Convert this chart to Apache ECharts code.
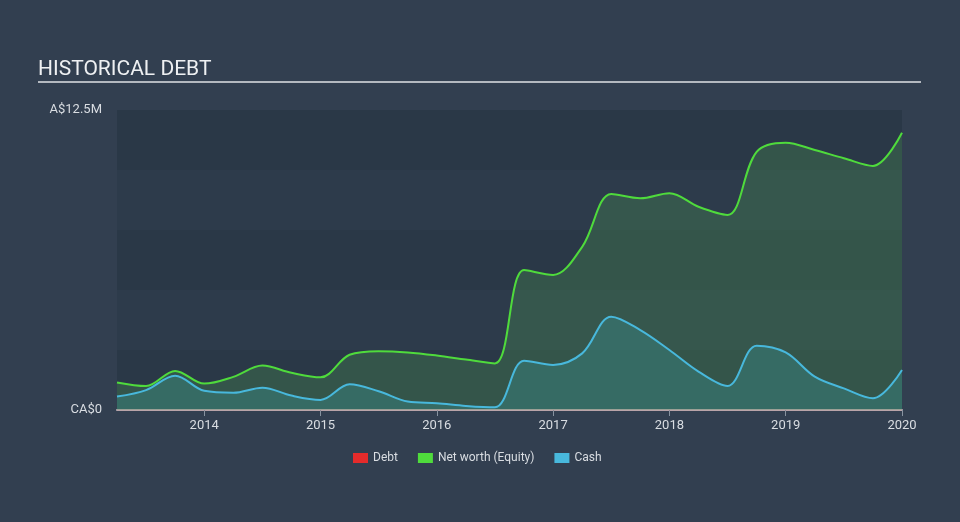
<!DOCTYPE html>
<html>
<head>
<meta charset="utf-8">
<script src="https://cdn.jsdelivr.net/npm/echarts@6/dist/echarts.min.js"></script>
<style>
html,body{margin:0;padding:0;background:#323f50;}
#chart{width:960px;height:522px;}
</style>
</head>
<body>
<div id="chart"></div>
<script>
// Quarter-end dates (YYYY-MM)
const dates = ['2013-03','2013-06','2013-09','2013-12','2014-03','2014-06','2014-09','2014-12',
  '2015-03','2015-06','2015-09','2015-12','2016-03','2016-06','2016-09','2016-12',
  '2017-03','2017-06','2017-09','2017-12','2018-03','2018-06','2018-09','2018-12',
  '2019-03','2019-06','2019-09','2019-12'];
// Values in A$ millions
const debt = [0,0,0,0,0,0,0,0,0,0,0,0,0,0,0,0,0,0,0,0,0,0,0,0,0,0,0,0];
const netWorth = [1.15,1.0,1.63,1.1,1.38,1.85,1.55,1.36,2.3,2.45,2.4,2.27,2.1,1.94,5.83,5.63,
  6.8,9.0,8.82,9.03,8.47,8.13,10.76,11.14,10.83,10.49,10.17,11.55];
const cash = [0.56,0.83,1.43,0.8,0.72,0.93,0.6,0.42,1.07,0.78,0.35,0.28,0.17,0.11,2.05,1.88,
  2.36,3.89,3.33,2.5,1.6,1.0,2.68,2.4,1.39,0.9,0.49,1.67];
const yearTicks = [2014,2015,2016,2017,2018,2019,2020];
const yMax = 12.5;

function toYear(d){ const [y,m]=d.split('-').map(Number); return y + m/12; }
function pairs(vals){ return dates.map((d,i)=>[toYear(d), vals[i]]); }

const chart = echarts.init(document.getElementById('chart'), null, {renderer:'canvas'});
const font = 'Roboto, "Open Sans", sans-serif';
chart.setOption({
  backgroundColor: '#323f50',
  animation: false,
  textStyle: {fontFamily: font},
  title: {
    text: 'HISTORICAL DEBT', left: 38, top: 59, padding: 0,
    textStyle: {color: '#eef0f2', fontSize: 21, fontWeight: 'normal', fontFamily: font}
  },
  graphic: [{
    type: 'rect', shape: {x: 38, y: 81, width: 883, height: 2},
    style: {fill: '#b4b9c0'}, silent: true
  }],
  legend: {
    left: 348, top: 447, icon: 'rect', itemWidth: 15, itemHeight: 10, itemGap: 20,
    textStyle: {color: '#d9dde2', fontSize: 12, fontFamily: font},
    data: ['Debt','Net worth (Equity)','Cash']
  },
  grid: {left: 117, right: 58, top: 110, bottom: 112, show: true,
    backgroundColor: 'rgba(20,30,45,0.12)', borderWidth: 0},
  xAxis: {
    type: 'value', min: toYear(dates[0]), max: toYear(dates[dates.length-1]),
    splitLine: {show: false},
    axisLine: {show: true, lineStyle: {color: '#b7aeb4', width: 2}},
    axisTick: {show: true, length: 6, lineStyle: {color: '#8893a0'}, customValues: yearTicks},
    axisLabel: {color: '#d9dde2', fontSize: 13, margin: 9, customValues: yearTicks,
      formatter: v => String(Math.round(v))}
  },
  yAxis: {
    type: 'value', min: 0, max: yMax, interval: 2.5,
    axisLine: {show: false}, axisTick: {show: false},
    splitLine: {show: false},
    splitArea: {show: true, areaStyle: {color: ['rgba(15,25,40,0.10)','rgba(255,255,255,0.0)']}},
    axisLabel: {color: '#d9dde2', fontSize: 13, margin: 15,
      formatter: v => v === 0 ? 'CA$0' : (v === yMax ? 'A$12.5M' : '')}
  },
  series: [
    {name: 'Net worth (Equity)', type: 'line', smooth: 0.35, showSymbol: false, data: pairs(netWorth),
      itemStyle: {color: '#4fdb3c'}, lineStyle: {color: '#4fdb3c', width: 2},
      areaStyle: {color: 'rgba(95,213,92,0.27)', origin: 'start'}, z: 2},
    {name: 'Cash', type: 'line', smooth: 0.35, showSymbol: false, data: pairs(cash),
      itemStyle: {color: '#48b8dc'}, lineStyle: {color: '#48b8dc', width: 2},
      areaStyle: {color: 'rgba(60,190,200,0.30)', origin: 'start'}, z: 3},
    {name: 'Debt', type: 'line', showSymbol: false, data: pairs(debt),
      itemStyle: {color: '#e52b2b'}, lineStyle: {color: '#e52b2b', width: 1, opacity: 0.3}, z: 4}
  ]
});
</script>
</body>
</html>
